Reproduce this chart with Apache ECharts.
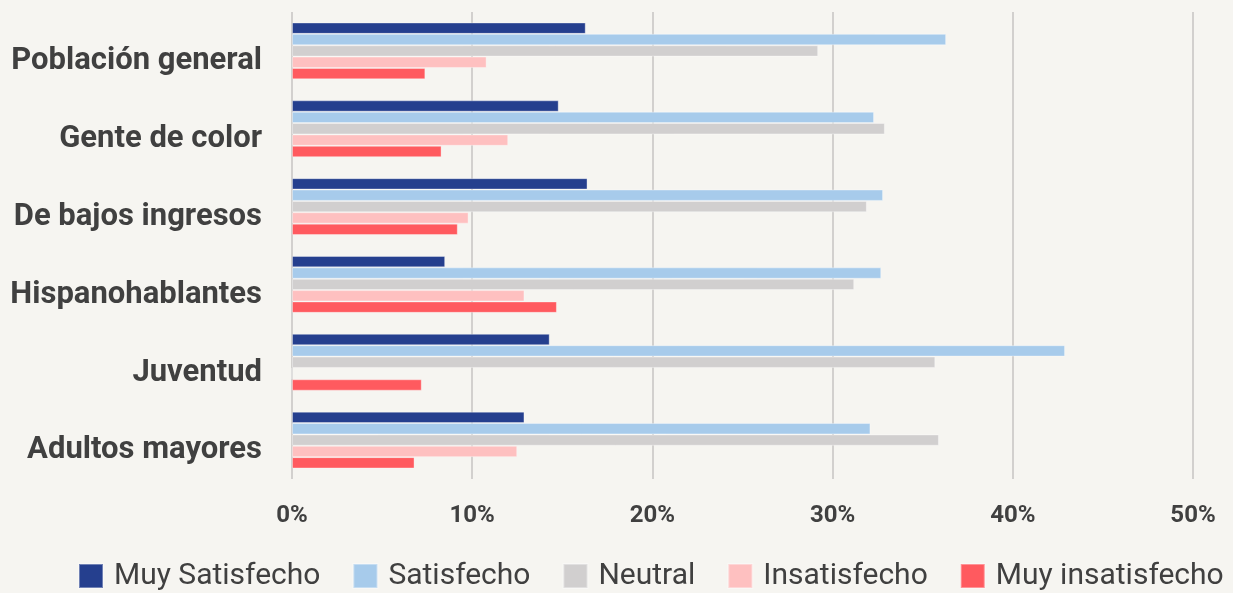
<!DOCTYPE html>
<html lang="es">
<head>
<meta charset="UTF-8">
<title>Satisfacción</title>
<script src="https://cdn.jsdelivr.net/npm/echarts@6/dist/echarts.min.js"></script>
<style>
  body { margin: 0; padding: 0; background: #f6f5f1; }
  #main { width: 1233px; height: 593px; }
</style>
</head>
<body>
<div id="main"></div>
<script>
var categories = ['Población general', 'Gente de color', 'De bajos ingresos', 'Hispanohablantes', 'Juventud', 'Adultos mayores'];
var muySatisfecho   = [16.3, 14.8, 16.4, 8.5, 14.3, 12.9];
var satisfecho      = [36.3, 32.3, 32.8, 32.7, 42.9, 32.1];
var neutral         = [29.2, 32.9, 31.9, 31.2, 35.7, 35.9];
var insatisfecho    = [10.8, 12.0, 9.8, 12.9, 0, 12.5];
var muyInsatisfecho = [7.4, 8.3, 9.2, 14.7, 7.2, 6.8];
var xTicks = [0, 10, 20, 30, 40, 50];

var font = 'Roboto, sans-serif';
var myChart = echarts.init(document.getElementById('main'));

function bar(name, data, color) {
  return {
    name: name,
    type: 'bar',
    data: data,
    barGap: '0%',
    barCategoryGap: '27%',
    itemStyle: { color: color, borderColor: 'rgba(255,255,255,0.35)', borderWidth: 1 }
  };
}

var option = {
  backgroundColor: '#f6f5f1',
  animation: false,
  grid: { left: 292, right: 40, top: 12, bottom: 114 },
  legend: {
    bottom: -3,
    left: 73,
    itemWidth: 24,
    itemHeight: 24,
    itemGap: 32,
    icon: 'rect',
    textStyle: { fontFamily: font, fontSize: 30, color: '#404040', padding: [0, 0, 0, 6] },
    data: ['Muy Satisfecho', 'Satisfecho', 'Neutral', 'Insatisfecho', 'Muy insatisfecho']
  },
  xAxis: {
    type: 'value',
    min: xTicks[0],
    max: xTicks[xTicks.length - 1],
    interval: 10,
    axisLine: { show: false },
    axisTick: { show: false },
    splitLine: { lineStyle: { color: '#d2d0ce', width: 2 } },
    axisLabel: {
      formatter: '{value}%',
      fontFamily: font,
      fontWeight: 'bold',
      fontSize: 24,
      color: '#404040',
      margin: 25
    }
  },
  yAxis: {
    type: 'category',
    data: categories,
    inverse: true,
    axisLine: { show: false },
    axisTick: { show: false },
    axisLabel: {
      fontFamily: font,
      fontWeight: 'bold',
      fontSize: 31,
      color: '#404040',
      margin: 30,
      verticalAlign: 'top',
      lineHeight: 21
    }
  },
  series: [
    bar('Muy Satisfecho', muySatisfecho, '#253f8e'),
    bar('Satisfecho', satisfecho, '#a7cbeb'),
    bar('Neutral', neutral, '#d1cfcf'),
    bar('Insatisfecho', insatisfecho, '#fec0c0'),
    bar('Muy insatisfecho', muyInsatisfecho, '#ff5a5f')
  ]
};
myChart.setOption(option);
</script>
</body>
</html>
